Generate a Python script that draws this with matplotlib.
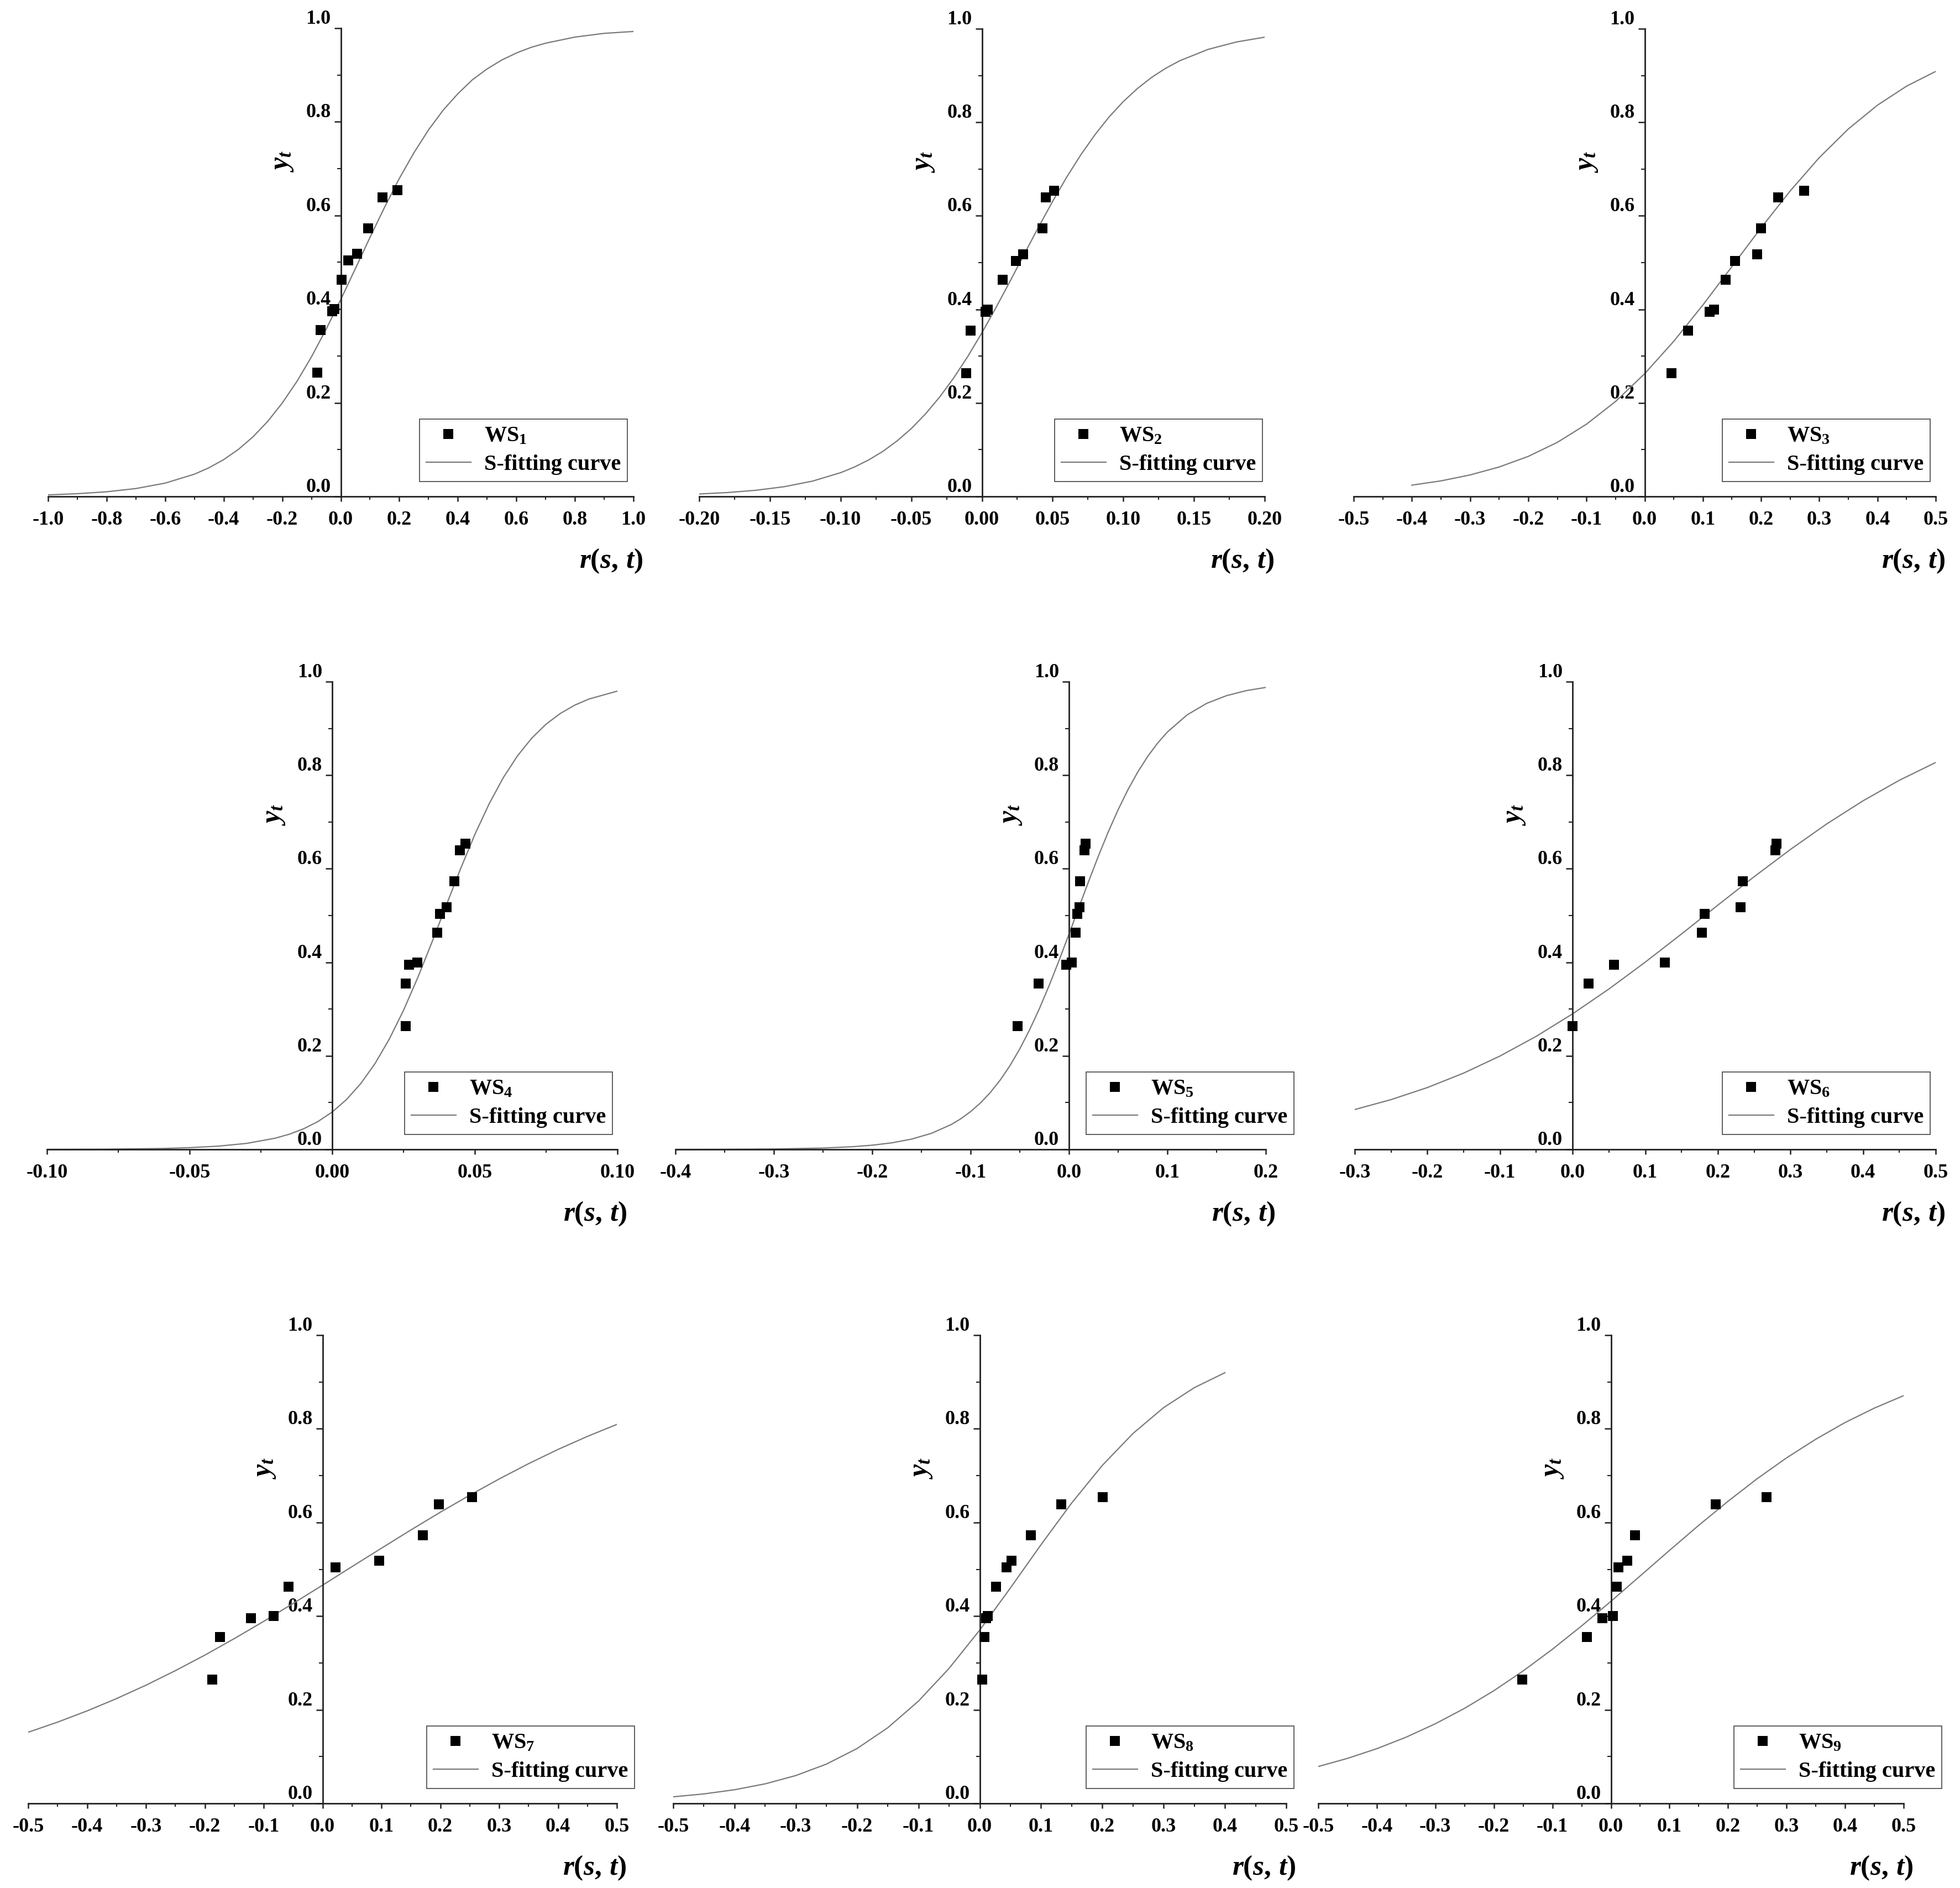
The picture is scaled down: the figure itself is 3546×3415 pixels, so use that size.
import matplotlib.pyplot as plt
from matplotlib.ticker import MultipleLocator, FuncFormatter

plt.rcParams['font.family'] = ['Liberation Serif', 'DejaVu Serif']
plt.rcParams['font.weight'] = 'bold'
plt.rcParams['mathtext.fontset'] = 'custom'
plt.rcParams['mathtext.rm'] = 'Liberation Serif:bold'
plt.rcParams['mathtext.it'] = 'Liberation Serif:bold:italic'
plt.rcParams['mathtext.bf'] = 'Liberation Serif:bold'

# y_t observed values (same for all stations)
yt = [0.264, 0.355, 0.395, 0.400, 0.463, 0.504, 0.518, 0.573, 0.639, 0.654]

# r(s,t) for each station, same order as yt
ws1_r = [-0.081, -0.069, -0.029, -0.021, 0.003, 0.026, 0.056, 0.094, 0.143, 0.194]
ws2_r = [-0.011, -0.008, 0.0025, 0.004, 0.0146, 0.024, 0.029, 0.043, 0.045, 0.051]
ws3_r = [0.046, 0.075, 0.112, 0.119, 0.139, 0.155, 0.193, 0.200, 0.229, 0.274]
ws4_r = [0.0257, 0.0257, 0.0269, 0.0298, 0.0368, 0.0377, 0.0401, 0.0429, 0.0448, 0.0467]
ws5_r = [-0.052, -0.031, -0.003, 0.003, 0.007, 0.0085, 0.0106, 0.011, 0.016, 0.017]
ws6_r = [0.000, 0.022, 0.057, 0.127, 0.178, 0.182, 0.231, 0.234, 0.279, 0.281]
ws7_r = [-0.187, -0.174, -0.122, -0.083, -0.058, 0.022, 0.096, 0.170, 0.198, 0.254]
ws8_r = [0.004, 0.008, 0.010, 0.013, 0.027, 0.044, 0.052, 0.083, 0.133, 0.201]
ws9_r = [-0.152, -0.041, -0.015, 0.003, 0.010, 0.013, 0.028, 0.041, 0.179, 0.266]

# S-fitting curves
c1_x = [-1.0, -0.9, -0.8, -0.7, -0.6, -0.5, -0.45, -0.4, -0.35, -0.3, -0.25, -0.2, -0.15, -0.1, -0.05,
        0.0, 0.05, 0.1, 0.15, 0.2, 0.25, 0.3, 0.35, 0.4, 0.45, 0.5, 0.55, 0.6, 0.65, 0.7, 0.8, 0.9, 1.0]
c1_y = [0.0034, 0.0059, 0.0100, 0.0169, 0.0285, 0.0476, 0.0614, 0.0787, 0.1004, 0.1273, 0.1600, 0.1994,
        0.2455, 0.2982, 0.3571, 0.4205, 0.4866, 0.5534, 0.618, 0.679, 0.734, 0.783, 0.825, 0.860, 0.890,
        0.913, 0.932, 0.947, 0.959, 0.968, 0.981, 0.989, 0.993]

c2_x = [-0.20, -0.18, -0.16, -0.14, -0.12, -0.10, -0.09, -0.08, -0.07, -0.06, -0.05, -0.04, -0.03, -0.02,
        -0.01, 0.00, 0.01, 0.02, 0.03, 0.04, 0.05, 0.06, 0.07, 0.08, 0.09, 0.10, 0.11, 0.12, 0.13, 0.14,
        0.16, 0.18, 0.20]
c2_y = [0.0053, 0.0084, 0.0132, 0.0208, 0.0327, 0.0508, 0.0632, 0.0783, 0.0966, 0.1188, 0.1451, 0.1762,
        0.2122, 0.2533, 0.2994, 0.3500, 0.4042, 0.4608, 0.5185, 0.5757, 0.6309, 0.6829, 0.7307, 0.7736,
        0.8116, 0.8443, 0.8722, 0.8959, 0.9155, 0.9317, 0.9559, 0.9717, 0.9820]

c3_x = [-0.40, -0.35, -0.30, -0.25, -0.20, -0.15, -0.10, -0.05, 0.00, 0.05, 0.10, 0.15, 0.20, 0.25,
        0.30, 0.35, 0.40, 0.45, 0.50]
c3_y = [0.0242, 0.0333, 0.0460, 0.0630, 0.0857, 0.1157, 0.1545, 0.2031, 0.2625, 0.3318, 0.4093, 0.4917,
        0.5744, 0.6532, 0.7245, 0.7858, 0.8366, 0.8773, 0.9088]

c4_x = [-0.10, -0.08, -0.06, -0.05, -0.04, -0.03, -0.02, -0.015, -0.01, -0.005, 0.000, 0.005, 0.010,
        0.015, 0.020, 0.025, 0.030, 0.035, 0.040, 0.045, 0.050, 0.055, 0.060, 0.065, 0.070, 0.075, 0.080,
        0.085, 0.090, 0.100]
c4_y = [0.0002, 0.0005, 0.0019, 0.0037, 0.0069, 0.0128, 0.0239, 0.0325, 0.0441, 0.0595, 0.0799, 0.1065,
        0.1406, 0.1833, 0.2356, 0.2972, 0.3672, 0.4433, 0.5221, 0.5999, 0.6730, 0.7385, 0.7949, 0.8417,
        0.8794, 0.9092, 0.9321, 0.9497, 0.9628, 0.9799]

c5_x = [-0.40, -0.35, -0.30, -0.25, -0.22, -0.20, -0.18, -0.16, -0.14, -0.12, -0.11, -0.10, -0.09, -0.08,
        -0.07, -0.06, -0.05, -0.04, -0.03, -0.02, -0.01, 0.00, 0.01, 0.02, 0.03, 0.04, 0.05, 0.06, 0.07,
        0.08, 0.09, 0.10, 0.12, 0.14, 0.16, 0.18, 0.20]
c5_y = [0.0001, 0.0003, 0.0009, 0.0029, 0.0057, 0.0090, 0.0140, 0.0220, 0.0342, 0.0528, 0.0654, 0.0808,
        0.0993, 0.1215, 0.1480, 0.1790, 0.2149, 0.2558, 0.3013, 0.3512, 0.4045, 0.4603, 0.5170, 0.5732,
        0.6278, 0.6792, 0.7265, 0.7693, 0.8072, 0.8401, 0.8684, 0.8923, 0.9289, 0.9537, 0.9700, 0.9808,
        0.9877]

c6_x = [-0.30, -0.25, -0.20, -0.15, -0.10, -0.05, 0.00, 0.05, 0.10, 0.15, 0.20, 0.25, 0.30, 0.35, 0.40,
        0.45, 0.50]
c6_y = [0.0852, 0.1064, 0.1322, 0.1631, 0.1996, 0.2418, 0.2898, 0.3429, 0.4003, 0.4606, 0.5222, 0.5830,
        0.6413, 0.6959, 0.7453, 0.7892, 0.8272]

c7_x = [-0.50, -0.45, -0.40, -0.35, -0.30, -0.25, -0.20, -0.15, -0.10, -0.05, 0.00, 0.05, 0.10, 0.15,
        0.20, 0.25, 0.30, 0.35, 0.40, 0.45, 0.50]
c7_y = [0.1520, 0.1736, 0.1975, 0.2238, 0.2524, 0.2835, 0.3166, 0.3519, 0.3887, 0.4270, 0.4660, 0.5056,
        0.5449, 0.5839, 0.6218, 0.6581, 0.6928, 0.7255, 0.7559, 0.7838, 0.8094]

c8_x = [-0.50, -0.45, -0.40, -0.35, -0.30, -0.25, -0.20, -0.15, -0.10, -0.05, 0.00, 0.05, 0.10, 0.15,
        0.20, 0.25, 0.30, 0.35, 0.40]
c8_y = [0.0141, 0.0203, 0.0292, 0.0418, 0.0595, 0.0840, 0.1173, 0.1616, 0.2184, 0.2884, 0.3701, 0.4600,
        0.5526, 0.6415, 0.7219, 0.7900, 0.8452, 0.8878, 0.9198]

c9_x = [-0.50, -0.45, -0.40, -0.35, -0.30, -0.25, -0.20, -0.15, -0.10, -0.05, 0.00, 0.05, 0.10, 0.15,
        0.20, 0.25, 0.30, 0.35, 0.40, 0.45, 0.50]
c9_y = [0.0788, 0.0962, 0.1169, 0.1414, 0.1701, 0.2031, 0.2407, 0.2829, 0.3292, 0.3792, 0.4316, 0.4859,
        0.5403, 0.5939, 0.6452, 0.6936, 0.7379, 0.7778, 0.8134, 0.8442, 0.8708]

# axis ranges and tick steps
xlims = [(-1.0, 1.0), (-0.2, 0.2), (-0.5, 0.5), (-0.1, 0.1), (-0.4, 0.2),
         (-0.3, 0.5), (-0.5, 0.5), (-0.5, 0.5), (-0.5, 0.5)]
xsteps = [0.2, 0.05, 0.1, 0.05, 0.1, 0.1, 0.1, 0.1, 0.1]
xdigits = [1, 2, 1, 2, 1, 1, 1, 1, 1]

stations = [ws1_r, ws2_r, ws3_r, ws4_r, ws5_r, ws6_r, ws7_r, ws8_r, ws9_r]
curves = [(c1_x, c1_y), (c2_x, c2_y), (c3_x, c3_y), (c4_x, c4_y), (c5_x, c5_y),
          (c6_x, c6_y), (c7_x, c7_y), (c8_x, c8_y), (c9_x, c9_y)]

# layout in pixels: axes left, right, top, bottom ; legend right edge
W, H = 3546, 3415
boxes = [(87, 1146, 51, 898), (1265, 2288, 52, 898), (2449, 3502, 52, 898),
         (85, 1117, 1233, 2079), (1222, 2290, 1233, 2079), (2451, 3502, 1233, 2079),
         (51, 1116, 2415, 3262), (1218, 2327, 2415, 3262), (2385, 3444, 2415, 3262)]
leg_right = [1135, 2284, 3492, 1108, 2341, 3492, 1148, 2341, 3513]

fig = plt.figure(figsize=(W / 100, H / 100), dpi=100)

for i in range(9):
    l, r, t, b = boxes[i]
    ax = fig.add_axes([l / W, 1 - b / H, (r - l) / W, (b - t) / H])

    cx, cy = curves[i]
    ax.plot(cx, cy, color='#7a7a7a', lw=1.6, label='S-fitting curve', zorder=2)
    ax.plot(stations[i], yt, ls='none', marker='s', ms=13.5, color='black', mec='black', mew=0,
            label='WS$_{%d}$' % (i + 1), zorder=3)

    ax.set_xlim(*xlims[i])
    ax.set_ylim(0, 1.0)

    ax.spines['left'].set_position(('data', 0))
    ax.spines['right'].set_visible(False)
    ax.spines['top'].set_visible(False)
    for s in ['left', 'bottom']:
        ax.spines[s].set_linewidth(2.0)
        ax.spines[s].set_color('#222222')

    step = xsteps[i]
    nd = xdigits[i]
    ax.xaxis.set_major_locator(MultipleLocator(step))
    ax.xaxis.set_minor_locator(MultipleLocator(step / 2))
    ax.xaxis.set_major_formatter(FuncFormatter(lambda v, p, nd=nd: '%.*f' % (nd, round(v, nd) + 0.0)))
    ax.yaxis.set_major_locator(MultipleLocator(0.2))
    ax.yaxis.set_minor_locator(MultipleLocator(0.1))
    ax.yaxis.set_major_formatter(FuncFormatter(lambda v, p: '%.1f' % (round(v, 1) + 0.0)))

    ax.tick_params(axis='x', which='major', direction='out', length=6.5, width=1.8, pad=12,
                   labelsize=26, color='#222222')
    ax.tick_params(axis='x', which='minor', direction='out', length=4.5, width=1.5, color='#222222')
    ax.tick_params(axis='y', which='major', direction='out', length=9, width=1.8, pad=4,
                   labelsize=26, color='#222222')
    ax.tick_params(axis='y', which='minor', direction='out', length=5, width=1.5, color='#222222')
    for lab in ax.get_yticklabels():
        lab.set_verticalalignment('bottom')

    ax.annotate('$y_t$', xy=(0, 0.715), xycoords='data', xytext=(-105, 0),
                textcoords='offset pixels', rotation=90, ha='center', va='center', fontsize=36)
    ax.annotate(r'$r(s,\,t)$', xy=(1, 0), xycoords='axes fraction', xytext=(18, -117),
                textcoords='offset pixels', ha='right', va='center', fontsize=37)

    h, lb = ax.get_legend_handles_labels()
    leg = ax.legend(h[::-1], lb[::-1], loc='lower right',
                    bbox_to_anchor=(leg_right[i] / W, 1 - (b - 27) / H),
                    bbox_transform=fig.transFigure, borderaxespad=0, fontsize=29,
                    frameon=True, fancybox=False, edgecolor='#444444', framealpha=1,
                    handlelength=2.0, handletextpad=0.6, labelspacing=0.35, borderpad=0.3,
                    numpoints=1)
    leg.get_frame().set_linewidth(1.2)

fig.savefig('out.png', dpi=100)
